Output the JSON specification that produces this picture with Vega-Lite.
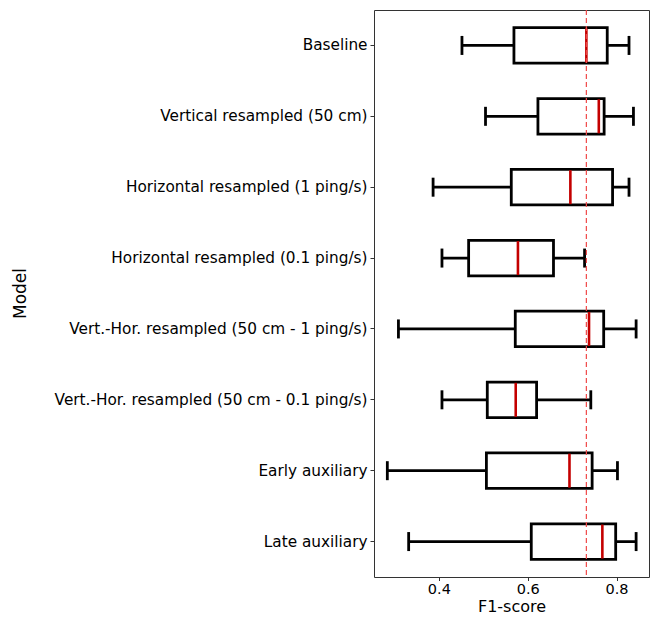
{
  "$schema": "https://vega.github.io/schema/vega-lite/v6.json",
  "autosize": {"type": "none"},
  "width": 275,
  "height": 567,
  "padding": {"left": 374, "top": 10, "right": 8, "bottom": 42},
  "background": "white",
  "config": {
    "view": {"stroke": "#333333", "strokeWidth": 1},
    "font": "DejaVu Sans",
    "axis": {
      "labelFont": "DejaVu Sans",
      "titleFont": "DejaVu Sans",
      "labelColor": "#000000",
      "titleColor": "#000000",
      "labelFontSize": 15.3,
      "titleFontSize": 17,
      "titleFontWeight": "normal",
      "labelLimit": 0,
      "grid": false,
      "domain": false,
      "tickColor": "#333333",
      "tickSize": 4,
      "labelPadding": 3
    }
  },
  "data": {
    "values": [
      {"model": "Baseline", "lo": 0.452, "q1": 0.569, "med": 0.732, "q3": 0.779, "hi": 0.828},
      {"model": "Vertical resampled (50 cm)", "lo": 0.505, "q1": 0.623, "med": 0.760, "q3": 0.772, "hi": 0.838},
      {"model": "Horizontal resampled (1 ping/s)", "lo": 0.387, "q1": 0.563, "med": 0.696, "q3": 0.791, "hi": 0.828},
      {"model": "Horizontal resampled (0.1 ping/s)", "lo": 0.407, "q1": 0.467, "med": 0.578, "q3": 0.658, "hi": 0.728},
      {"model": "Vert.-Hor. resampled (50 cm - 1 ping/s)", "lo": 0.309, "q1": 0.572, "med": 0.738, "q3": 0.771, "hi": 0.844},
      {"model": "Vert.-Hor. resampled (50 cm - 0.1 ping/s)", "lo": 0.407, "q1": 0.509, "med": 0.573, "q3": 0.620, "hi": 0.742},
      {"model": "Early auxiliary", "lo": 0.284, "q1": 0.507, "med": 0.694, "q3": 0.745, "hi": 0.802},
      {"model": "Late auxiliary", "lo": 0.332, "q1": 0.608, "med": 0.768, "q3": 0.798, "hi": 0.844}
    ]
  },
  "encoding": {
    "y": {
      "field": "model",
      "type": "nominal",
      "sort": null,
      "scale": {"paddingInner": 0, "paddingOuter": 0},
      "axis": {"title": "Model", "titleX": -345, "titleY": 283, "titleAngle": -90, "titleBaseline": "bottom"}
    }
  },
  "layer": [
    {
      "mark": {"type": "rule", "color": "#000000", "strokeWidth": 2.8},
      "encoding": {
        "x": {
          "field": "lo",
          "type": "quantitative",
          "scale": {"domain": [0.254, 0.873], "nice": false, "zero": false},
          "axis": {"values": [0.4, 0.6, 0.8], "format": ".1f", "title": "F1-score", "titlePadding": 2, "labelFontSize": 14.5, "labelPadding": 2, "tickSize": 3.5, "titleFontSize": 16}
        },
        "x2": {"field": "hi"}
      }
    },
    {
      "mark": {"type": "bar", "fill": "#ffffff", "stroke": "#000000", "strokeWidth": 2.8, "height": {"band": 0.5}},
      "encoding": {
        "x": {"field": "q1", "type": "quantitative"},
        "x2": {"field": "q3"}
      }
    },
    {
      "mark": {"type": "tick", "color": "#000000", "size": 19, "thickness": 2.8, "opacity": 1},
      "encoding": {"x": {"field": "lo", "type": "quantitative"}}
    },
    {
      "mark": {"type": "tick", "color": "#000000", "size": 19, "thickness": 2.8, "opacity": 1},
      "encoding": {"x": {"field": "hi", "type": "quantitative"}}
    },
    {
      "mark": {"type": "tick", "color": "#c40000", "size": 34, "thickness": 2.6, "opacity": 1},
      "encoding": {"x": {"field": "med", "type": "quantitative"}}
    },
    {
      "data": {"values": [{"ref": 0.732}]},
      "mark": {"type": "rule", "color": "#f04848", "strokeWidth": 1.2, "strokeDash": [5, 3]},
      "encoding": {"x": {"field": "ref", "type": "quantitative"}, "y": null}
    }
  ]
}
